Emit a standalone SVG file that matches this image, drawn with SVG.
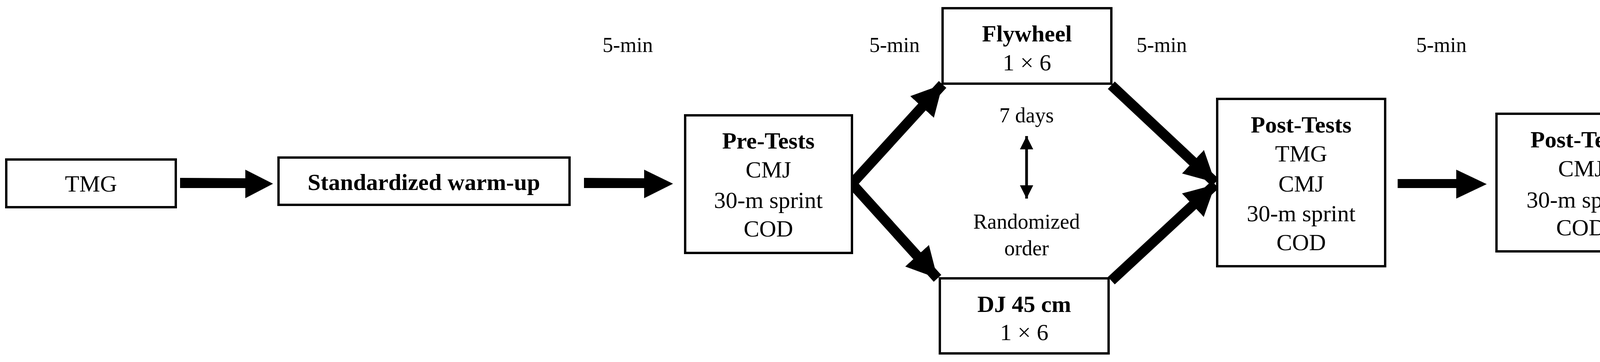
<svg xmlns="http://www.w3.org/2000/svg" width="4278" height="926" viewBox="0 0 4278 926">
<style>
.box{fill:#fff;stroke:#000;stroke-width:6}
text{font-family:"Liberation Serif","Times New Roman",serif;font-size:60px;fill:#000;text-anchor:middle;dominant-baseline:central}
.b{font-weight:bold}
.s{font-size:54px}
.conn{stroke:#000;stroke-width:26;fill:none}
</style>
<defs>
<marker id="ah" markerUnits="userSpaceOnUse" markerWidth="90" markerHeight="90" refX="78" refY="45" orient="auto"><path d="M0,4 L78,45 L0,86 Z" fill="#000"/></marker>
<marker id="sa" markerUnits="userSpaceOnUse" markerWidth="40" markerHeight="40" refX="34" refY="17" orient="auto-start-reverse"><path d="M0,0 L34,17 L0,34 Z" fill="#000"/></marker>
</defs>
<g id="connectors">
<polygon points="461,455 628,456 628,434 699,470 628,507 628,481 461,481" fill="#000"/>
<polygon points="1495,455 1649,456 1649,434 1723,470 1649,507 1649,481 1495,481" fill="#000"/>
<polygon points="3578,458 3728,458 3728,434 3806,471 3728,508 3728,481 3578,481" fill="#000"/>
<line class="conn" x1="2181" y1="470" x2="2413" y2="216" marker-end="url(#ah)"/>
<line class="conn" x1="2181" y1="470" x2="2400" y2="712" marker-end="url(#ah)"/>
<line class="conn" x1="2845" y1="218" x2="3111" y2="467" marker-end="url(#ah)"/>
<line class="conn" x1="2845" y1="718" x2="3111" y2="472" marker-end="url(#ah)"/>
<line x1="2628" y1="348" x2="2628" y2="508" stroke="#000" stroke-width="7" marker-start="url(#sa)" marker-end="url(#sa)"/>
</g>
<g id="labels">
<text class="s" x="1607" y="115">5-min</text>
<text class="s" x="2290" y="115">5-min</text>
<text class="s" x="2974" y="115">5-min</text>
<text class="s" x="3690" y="115">5-min</text>
<text class="s" x="2628" y="295">7 days</text>
<text class="s" x="2628" y="567">Randomized</text>
<text class="s" x="2628" y="635">order</text>
</g>
<g id="tmg"><rect class="box" x="16" y="408" width="434" height="122"/><text x="233" y="470">TMG</text></g>
<g id="warmup"><rect class="box" x="713" y="403" width="745" height="121"/><text class="b" x="1085" y="466">Standardized warm-up</text></g>
<g id="pretests"><rect class="box" x="1754" y="295" width="427" height="352"/>
<text class="b" x="1967" y="360">Pre-Tests</text><text x="1967" y="434">CMJ</text><text x="1967" y="512">30-m sprint</text><text x="1967" y="585">COD</text></g>
<g id="flywheel"><rect class="box" x="2413" y="21" width="432" height="193"/>
<text class="b" x="2629" y="86">Flywheel</text><text x="2629" y="160">1 × 6</text></g>
<g id="dj"><rect class="box" x="2406" y="712" width="432" height="192"/>
<text class="b" x="2622" y="778">DJ 45 cm</text><text x="2622" y="850">1 × 6</text></g>
<g id="posttests1"><rect class="box" x="3116" y="253" width="430" height="428"/>
<text class="b" x="3331" y="319">Post-Tests</text><text x="3331" y="393">TMG</text><text x="3331" y="470">CMJ</text><text x="3331" y="546">30-m sprint</text><text x="3331" y="620">COD</text></g>
<g id="posttests2"><rect class="box" x="3831" y="291" width="432" height="352"/>
<text class="b" x="4047" y="357">Post-Tests</text><text x="4047" y="431">CMJ</text><text x="4047" y="511">30-m sprint</text><text x="4047" y="582">COD</text></g>
</svg>
